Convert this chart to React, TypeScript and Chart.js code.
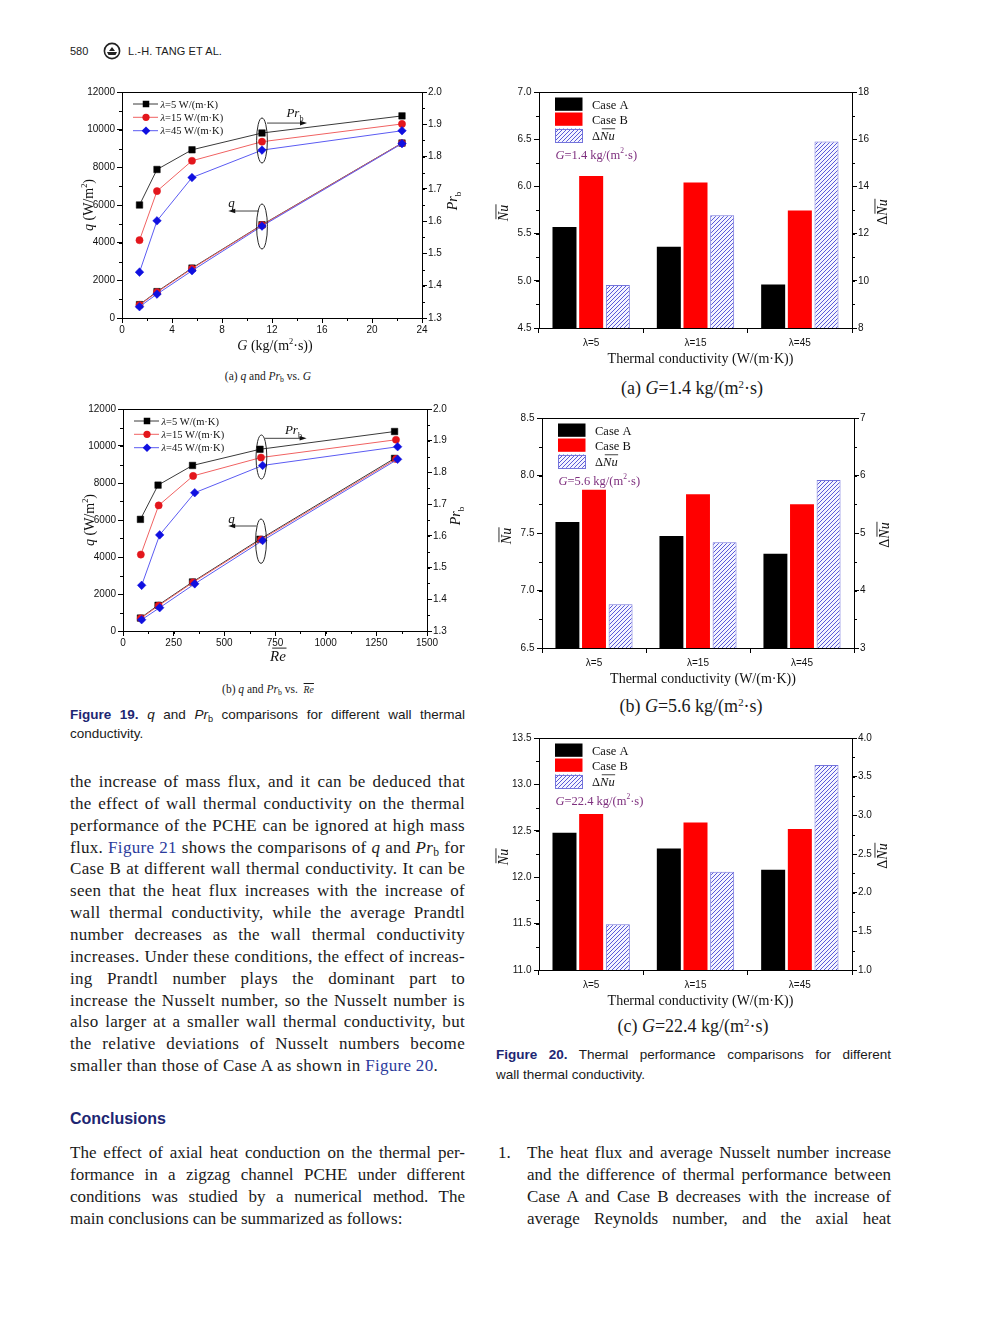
import React, { useEffect, useRef } from 'react';
import { Chart, registerables } from 'chart.js';

Chart.register(...registerables);

const SANS = '"Liberation Sans", Arial, sans-serif';
const SERIF = '"Liberation Serif", "Times New Roman", serif';

// ================= DATA =================
const LAMBDA_LABELS = ['λ=5 W/(m·K)', 'λ=15 W/(m·K)', 'λ=45 W/(m·K)'];

// Figure 19(a): q and Pr_b versus mass flux G
const G_VALUES = [1.4, 2.8, 5.6, 11.2, 22.4];
const PRB_G_L5 = [1.650, 1.760, 1.821, 1.873, 1.926];
const PRB_G_L15 = [1.541, 1.693, 1.787, 1.846, 1.901];
const PRB_G_L45 = [1.442, 1.601, 1.735, 1.820, 1.880];
const Q_G_L5 = [710, 1400, 2650, 4950, 9290];
const Q_G_L15 = [690, 1370, 2620, 4930, 9280];
const Q_G_L45 = [600, 1270, 2510, 4880, 9260];

// Figure 19(b): q and Pr_b versus mean Reynolds number
const RE_L5 = [86, 173, 343, 676, 1340];
const RE_L15 = [88, 176, 346, 681, 1347];
const RE_L45 = [92, 181, 354, 689, 1355];
const PRB_RE_L5 = [1.652, 1.760, 1.822, 1.873, 1.929];
const PRB_RE_L15 = [1.541, 1.696, 1.789, 1.847, 1.903];
const PRB_RE_L45 = [1.444, 1.603, 1.736, 1.822, 1.881];
const Q_RE_L5 = [700, 1390, 2650, 4960, 9330];
const Q_RE_L15 = [690, 1370, 2630, 4940, 9300];
const Q_RE_L45 = [610, 1260, 2550, 4890, 9280];

// axis ranges [min, max, major step, minor step]
const Q_AXIS = [0, 12000, 2000, 1000];
const PR_AXIS = [1.3, 2.0, 0.1, 0.05];
const G_AXIS = [0, 24, 4, 2];
const RE_AXIS = [0, 1500, 250, 125];

// annotation anchors (data units): ellipse [x, yTop, yBottom], arrow [x1, x2, y], label [x, y]
const ANN_G = {
  prEll: [11.2, 10620, 8230], qEll: [11.2, 6053, 3664],
  prArrow: [11.6, 14.8, 10350], qArrow: [10.95, 8.5, 5680],
  prLabel: [13.15, 10660], qLabel: [8.5, 5900],
};
const ANN_RE = {
  prEll: [683, 10594, 8216], qEll: [681, 6054, 3657],
  prArrow: [700, 906, 10415], qArrow: [659, 519, 5675],
  prLabel: [799, 10630], qLabel: [519, 5840],
};

// Figure 20: Nusselt numbers
const CONDUCTIVITY_CATS = ['λ=5', 'λ=15', 'λ=45'];
const BAR_SERIES = ['Case A', 'Case B', 'ΔNu'];
const BAR_G = [1.4, 5.6, 22.4];
const NU_A_G1 = [5.57, 5.36, 4.96];
const NU_B_G1 = [6.11, 6.04, 5.745];
const DNU_G1 = [9.82, 12.78, 15.9];
const NU_A_G2 = [7.596, 7.474, 7.32];
const NU_B_G2 = [7.877, 7.836, 7.75];
const DNU_G2 = [3.76, 4.84, 5.92];
const NU_A_G3 = [12.48, 12.31, 12.08];
const NU_B_G3 = [12.68, 12.59, 12.52];
const DNU_G3 = [1.59, 2.27, 3.65];
const NU_AXIS_G1 = [4.5, 7.0, 0.5, 0.25];
const DNU_AXIS_G1 = [8, 18, 2, 1];
const NU_AXIS_G2 = [6.5, 8.5, 0.5, 0.25];
const DNU_AXIS_G2 = [3, 7, 1, 0.5];
const NU_AXIS_G3 = [11.0, 13.5, 0.5, 0.25];
const DNU_AXIS_G3 = [1.0, 4.0, 0.5, 0.25];

// ================= DRAW HELPERS =================
type Run = { t: string; i?: boolean; s?: number; dy?: number; o?: boolean };
type Pos = { left: number; top: number; w: number; h: number; padTop: number; leftW: number; rightW: number; bottomH: number };

function fontOf(r: Run, size: number, fam: string) {
  return `${r.i ? 'italic ' : ''}${(size * (r.s ?? 1)).toFixed(2)}px ${fam}`;
}

function drawRich(ctx: CanvasRenderingContext2D, runs: Run[], x: number, y: number, size: number,
  opt: { align?: 'left' | 'center'; rot?: number; color?: string; family?: string } = {}) {
  const fam = opt.family ?? SERIF;
  const col = opt.color ?? '#111';
  ctx.save();
  ctx.translate(x, y);
  if (opt.rot) ctx.rotate(opt.rot);
  ctx.textAlign = 'left';
  ctx.textBaseline = 'alphabetic';
  ctx.fillStyle = col;
  ctx.strokeStyle = col;
  const ws = runs.map((r) => { ctx.font = fontOf(r, size, fam); return ctx.measureText(r.t).width; });
  const total = ws.reduce((p, c) => p + c, 0);
  let cx = opt.align === 'center' ? -total / 2 : 0;
  runs.forEach((r, k) => {
    ctx.font = fontOf(r, size, fam);
    ctx.fillText(r.t, cx, r.dy ?? 0);
    if (r.o) {
      ctx.lineWidth = Math.max(0.8, size / 16);
      ctx.beginPath();
      const oy = -size * 0.86;
      ctx.moveTo(cx + size * 0.14, oy);
      ctx.lineTo(cx + ws[k] + size * 0.04, oy);
      ctx.stroke();
    }
    cx += ws[k];
  });
  ctx.restore();
}

function minorTicks(ctx: CanvasRenderingContext2D, scale: any, side: 'left' | 'right' | 'bottom', a: any, rng: number[], len = 3) {
  const [min, max, , step] = rng;
  const n = Math.round((max - min) / step);
  ctx.beginPath();
  for (let i = 0; i <= n; i++) {
    const p = Math.round(scale.getPixelForValue(min + i * step)) + 0.5;
    if (side === 'bottom') { ctx.moveTo(p, a.bottom); ctx.lineTo(p, a.bottom + len); }
    else if (side === 'left') { ctx.moveTo(a.left, p); ctx.lineTo(a.left - len, p); }
    else { ctx.moveTo(a.right, p); ctx.lineTo(a.right + len, p); }
  }
  ctx.stroke();
}

function topFrame(ctx: CanvasRenderingContext2D, a: any) {
  const y = Math.round(a.top) + 0.5;
  ctx.beginPath();
  ctx.moveTo(a.left, y);
  ctx.lineTo(a.right, y);
  ctx.stroke();
}

function marker(ctx: CanvasRenderingContext2D, style: string, x: number, y: number, r: number, fill: string) {
  ctx.fillStyle = fill;
  ctx.beginPath();
  if (style === 'rect') { const s = r * Math.SQRT1_2; ctx.rect(x - s, y - s, 2 * s, 2 * s); }
  else if (style === 'circle') ctx.arc(x, y, r, 0, Math.PI * 2);
  else { ctx.moveTo(x - r, y); ctx.lineTo(x, y - r); ctx.lineTo(x + r, y); ctx.lineTo(x, y + r); ctx.closePath(); }
  ctx.fill();
}

function arrow(ctx: CanvasRenderingContext2D, x1: number, y: number, x2: number) {
  const dir = Math.sign(x2 - x1);
  ctx.beginPath();
  ctx.moveTo(x1, y);
  ctx.lineTo(x2 - dir * 5, y);
  ctx.stroke();
  ctx.fillStyle = '#111';
  ctx.beginPath();
  ctx.moveTo(x2, y);
  ctx.lineTo(x2 - dir * 7, y - 2.3);
  ctx.lineTo(x2 - dir * 7, y + 2.3);
  ctx.closePath();
  ctx.fill();
}

const tickGrid = (offset = false) => ({
  display: true, drawOnChartArea: false, drawTicks: true, tickLength: 5,
  color: '#000', lineWidth: 1, offset,
});
const border = { display: true, color: '#000', width: 1 };
const tickFont = { family: SANS, size: 10 };

// ================= LINE CHART =================
const SERIES_STYLE = [
  { line: '#3a3a3a', fill: '#000000', point: 'rect', radius: 4.6 },
  { line: '#f06262', fill: '#e3161c', point: 'circle', radius: 3.6 },
  { line: '#5b5bf2', fill: '#1010e0', point: 'rectRot', radius: 4.3 },
];

const Q_TITLE: Run[] = [{ t: 'q', i: true }, { t: ' (W/m' }, { t: '2', s: 0.6, dy: -6 }, { t: ')' }];
const PR_TITLE: Run[] = [{ t: 'Pr', i: true }, { t: 'b', s: 0.65, dy: 3.5 }];

interface LineSpec {
  pos: Pos; xAxis: number[]; xs: number[][]; pr: number[][]; q: number[][];
  xTitle: Run[]; xTitleSize: number; xTitleDy: number; rightDx: number; ann: any;
}

function makeLine(canvas: HTMLCanvasElement, spec: LineSpec) {
  const datasets: any[] = [];
  [0, 1, 2].forEach((k) => {
    const st = SERIES_STYLE[k];
    const common = {
      borderColor: st.line, borderWidth: 1, pointStyle: st.point, pointRadius: st.radius,
      pointBackgroundColor: st.fill, pointBorderColor: st.fill, pointBorderWidth: 0.5,
      fill: false, tension: 0, order: 2 - k,
    };
    datasets.push({ ...common, label: LAMBDA_LABELS[k] + ' Pr', yAxisID: 'y1', data: spec.xs[k].map((x, i) => ({ x, y: spec.pr[k][i] })) });
    datasets.push({ ...common, label: LAMBDA_LABELS[k] + ' q', yAxisID: 'y', data: spec.xs[k].map((x, i) => ({ x, y: spec.q[k][i] })) });
  });
  const decor = {
    id: 'decor',
    afterDraw(chart: any) {
      const ctx: CanvasRenderingContext2D = chart.ctx;
      const a = chart.chartArea;
      const sx = chart.scales.x, sy = chart.scales.y;
      ctx.save();
      ctx.strokeStyle = '#000';
      ctx.lineWidth = 1;
      topFrame(ctx, a);
      minorTicks(ctx, sx, 'bottom', a, spec.xAxis);
      minorTicks(ctx, sy, 'left', a, Q_AXIS);
      minorTicks(ctx, chart.scales.y1, 'right', a, PR_AXIS);
      // legend
      const rows = [12, 25.3, 38.7];
      rows.forEach((dy, k) => {
        const st = SERIES_STYLE[k];
        const y = a.top + dy;
        ctx.strokeStyle = st.line;
        ctx.lineWidth = 1;
        ctx.beginPath();
        ctx.moveTo(a.left + 11, y);
        ctx.lineTo(a.left + 36, y);
        ctx.stroke();
        marker(ctx, st.point, a.left + 24, y, st.radius, st.fill);
        const lab = LAMBDA_LABELS[k];
        drawRich(ctx, [{ t: lab.slice(0, 1), i: true }, { t: lab.slice(1) }], a.left + 38.5, y + 3.6, 10.5);
      });
      // annotations
      const ann = spec.ann;
      ctx.strokeStyle = '#111';
      ctx.lineWidth = 0.9;
      [ann.prEll, ann.qEll].forEach((e: number[]) => {
        const cx = sx.getPixelForValue(e[0]);
        const y1 = sy.getPixelForValue(e[1]);
        const y2 = sy.getPixelForValue(e[2]);
        ctx.beginPath();
        ctx.ellipse(cx, (y1 + y2) / 2, 5.4, (y2 - y1) / 2, 0, 0, Math.PI * 2);
        ctx.stroke();
      });
      ctx.lineWidth = 0.8;
      [ann.prArrow, ann.qArrow].forEach((r: number[]) => {
        arrow(ctx, sx.getPixelForValue(r[0]), sy.getPixelForValue(r[2]), sx.getPixelForValue(r[1]));
      });
      drawRich(ctx, [{ t: 'Pr', i: true }, { t: 'b', s: 0.62, dy: 3.5 }], sx.getPixelForValue(ann.prLabel[0]), sy.getPixelForValue(ann.prLabel[1]), 13);
      drawRich(ctx, [{ t: 'q', i: true }], sx.getPixelForValue(ann.qLabel[0]), sy.getPixelForValue(ann.qLabel[1]), 13);
      // axis titles
      const midY = (a.top + a.bottom) / 2;
      drawRich(ctx, Q_TITLE, a.left - 29, midY, 14, { align: 'center', rot: -Math.PI / 2 });
      drawRich(ctx, PR_TITLE, a.right + spec.rightDx, midY - 4, 14, { align: 'center', rot: -Math.PI / 2 });
      drawRich(ctx, spec.xTitle, (a.left + a.right) / 2 + 3, a.bottom + spec.xTitleDy, spec.xTitleSize, { align: 'center' });
      ctx.restore();
    },
  };
  const p = spec.pos;
  return new Chart(canvas, {
    type: 'line',
    data: { datasets },
    options: {
      animation: false, responsive: false,
      layout: { padding: { top: p.padTop, left: 0, right: 0, bottom: 0 } },
      plugins: { legend: { display: false }, tooltip: { enabled: false } },
      scales: {
        x: {
          type: 'linear', min: spec.xAxis[0], max: spec.xAxis[1],
          ticks: { stepSize: spec.xAxis[2], font: tickFont, color: '#111', padding: 1, callback: (v: any) => String(v) },
          grid: tickGrid(), border,
          afterFit: (s: any) => { s.height = p.bottomH; },
        },
        y: {
          type: 'linear', position: 'left', min: Q_AXIS[0], max: Q_AXIS[1],
          ticks: { stepSize: Q_AXIS[2], font: tickFont, color: '#111', padding: 2, callback: (v: any) => String(v) },
          grid: tickGrid(), border,
          afterFit: (s: any) => { s.width = p.leftW; },
        },
        y1: {
          type: 'linear', position: 'right', min: PR_AXIS[0], max: PR_AXIS[1],
          ticks: { stepSize: PR_AXIS[2], font: tickFont, color: '#111', padding: 1, callback: (v: any) => Number(v).toFixed(1) },
          grid: tickGrid(), border,
          afterFit: (s: any) => { s.width = p.rightW; },
        },
      },
    } as any,
    plugins: [decor as any],
  });
}

// ================= BAR CHART =================
function makeHatch(): CanvasPattern {
  const c = document.createElement('canvas');
  c.width = 4; c.height = 4;
  const g = c.getContext('2d')!;
  g.fillStyle = '#f4f4ff';
  g.fillRect(0, 0, 4, 4);
  g.strokeStyle = '#4848d4';
  g.lineWidth = 0.9;
  g.beginPath();
  g.moveTo(-1, 5); g.lineTo(5, -1);
  g.moveTo(-1, 1); g.lineTo(1, -1);
  g.moveTo(3, 5); g.lineTo(5, 3);
  g.stroke();
  return g.createPattern(c, 'repeat')!;
}

interface BarSpec {
  pos: Pos; a: number[]; b: number[]; d: number[];
  left: number[]; right: number[]; rightDec: number; g: number;
}

const HATCH_BORDER = '#7474dc';

function makeBar(canvas: HTMLCanvasElement, spec: BarSpec) {
  const hatch = makeHatch();
  const p = spec.pos;
  const barOpts = { categoryPercentage: 0.767, barPercentage: 0.9 };
  const decor = {
    id: 'decor',
    afterDraw(chart: any) {
      const ctx: CanvasRenderingContext2D = chart.ctx;
      const a = chart.chartArea;
      ctx.save();
      ctx.strokeStyle = '#000';
      ctx.lineWidth = 1;
      topFrame(ctx, a);
      minorTicks(ctx, chart.scales.y, 'left', a, spec.left);
      minorTicks(ctx, chart.scales.y1, 'right', a, spec.right);
      // legend
      const fills: any[] = ['#000000', '#ff0000', hatch];
      const rows = [5.5, 20.5, 36.5];
      rows.forEach((dy, k) => {
        const y = a.top + dy;
        ctx.fillStyle = fills[k];
        ctx.fillRect(a.left + 16, y, 27.5, 13.3);
        if (k === 2) {
          ctx.strokeStyle = HATCH_BORDER;
          ctx.lineWidth = 1;
          ctx.strokeRect(Math.round(a.left + 16) + 0.5, Math.round(y) + 0.5, 27, 13);
        }
        const name = BAR_SERIES[k];
        const runs: Run[] = name.startsWith('Δ') ? [{ t: 'Δ' }, { t: name.slice(1), i: true, o: true }] : [{ t: name }];
        drawRich(ctx, runs, a.left + 53, y + 11, 12.5);
      });
      drawRich(ctx, [{ t: 'G', i: true }, { t: `=${spec.g} kg/(m` }, { t: '2', s: 0.6, dy: -5.5 }, { t: '·s)' }],
        a.left + 16.5, a.top + 66.5, 12.5, { color: '#7e2f7e' });
      // titles
      const midY = (a.top + a.bottom) / 2;
      drawRich(ctx, [{ t: 'Nu', i: true, o: true }], a.left - 31, midY + 3, 14, { align: 'center', rot: -Math.PI / 2 });
      drawRich(ctx, [{ t: 'Δ' }, { t: 'Nu', i: true, o: true }], a.right + 35, midY + 2, 14, { align: 'center', rot: -Math.PI / 2 });
      drawRich(ctx, [{ t: 'Thermal conductivity (W/(m·K))' }], (a.left + a.right) / 2 + 5, a.bottom + 34.5, 14, { align: 'center' });
      ctx.restore();
    },
  };
  return new Chart(canvas, {
    type: 'bar',
    data: {
      labels: CONDUCTIVITY_CATS,
      datasets: [
        { label: BAR_SERIES[0], data: spec.a, backgroundColor: '#000000', yAxisID: 'y', ...barOpts },
        { label: BAR_SERIES[1], data: spec.b, backgroundColor: '#ff0000', yAxisID: 'y', ...barOpts },
        { label: BAR_SERIES[2], data: spec.d, backgroundColor: hatch, borderColor: HATCH_BORDER, borderWidth: 1, yAxisID: 'y1', ...barOpts },
      ],
    },
    options: {
      animation: false, responsive: false,
      layout: { padding: { top: p.padTop, left: 0, right: 0, bottom: 0 } },
      plugins: { legend: { display: false }, tooltip: { enabled: false } },
      scales: {
        x: {
          type: 'category', offset: true,
          ticks: { font: tickFont, color: '#111', padding: 4 },
          grid: tickGrid(true), border,
          afterFit: (s: any) => { s.height = p.bottomH; },
        },
        y: {
          type: 'linear', position: 'left', min: spec.left[0], max: spec.left[1],
          ticks: { stepSize: spec.left[2], font: tickFont, color: '#111', padding: 2.5, callback: (v: any) => Number(v).toFixed(1) },
          grid: tickGrid(), border,
          afterFit: (s: any) => { s.width = p.leftW; },
        },
        y1: {
          type: 'linear', position: 'right', min: spec.right[0], max: spec.right[1],
          ticks: { stepSize: spec.right[2], font: tickFont, color: '#111', padding: 1, callback: (v: any) => Number(v).toFixed(spec.rightDec) },
          grid: tickGrid(), border,
          afterFit: (s: any) => { s.width = p.rightW; },
        },
      },
    } as any,
    plugins: [decor as any],
  });
}

// ================= REACT =================
function ChartCanvas({ pos, make }: { pos: Pos; make: (c: HTMLCanvasElement) => Chart }) {
  const ref = useRef<HTMLCanvasElement>(null);
  useEffect(() => {
    const ch = make(ref.current!);
    return () => ch.destroy();
  }, []);
  return (
    <canvas ref={ref} width={pos.w} height={pos.h}
      style={{ position: 'absolute', left: pos.left, top: pos.top, width: pos.w, height: pos.h }} />
  );
}

const POS_LINE_A: Pos = { left: 60, top: 82, w: 410, h: 280, padTop: 10, leftW: 62, rightW: 48, bottomH: 44 };
const POS_LINE_B: Pos = { left: 60, top: 398, w: 410, h: 280, padTop: 11, leftW: 63, rightW: 43, bottomH: 47 };
const POS_BAR_A: Pos = { left: 490, top: 82, w: 410, h: 290, padTop: 10, leftW: 49, rightW: 48, bottomH: 44 };
const POS_BAR_B: Pos = { left: 490, top: 408, w: 410, h: 284, padTop: 10, leftW: 52, rightW: 46, bottomH: 44 };
const POS_BAR_C: Pos = { left: 490, top: 728, w: 410, h: 286, padTop: 10, leftW: 49, rightW: 48, bottomH: 44 };

const NAVY = '#1d2672';
const LINK = '#2b3a9c';
const TXT = '#1a1a1a';

const Sub = ({ c }: { c: string }) => (
  <span style={{ fontSize: '0.68em', position: 'relative', top: '0.28em' }}>{c}</span>
);
const Sup = ({ c }: { c: string }) => (
  <span style={{ fontSize: '0.6em', position: 'relative', top: '-0.55em' }}>{c}</span>
);
const Prb = () => (<><i>Pr</i><Sub c="b" /></>);
const A = ({ children }: { children: React.ReactNode }) => <span style={{ color: LINK }}>{children}</span>;

function TextLine({ y, x, w, justify = true, size = 17, ls = 0.3, lh = 22, family = SERIF, children }:
  { y: number; x: number; w: number; justify?: boolean; size?: number; ls?: number; lh?: number; family?: string; children: React.ReactNode }) {
  const off = family === SANS ? 9 : 10;
  return (
    <div style={{
      position: 'absolute', left: x, top: y - off, width: w, height: lh, lineHeight: `${lh}px`,
      fontSize: size, fontFamily: family, letterSpacing: ls, color: TXT,
      textAlign: justify ? 'justify' : 'left', textAlignLast: justify ? 'justify' : 'left',
    } as any}>{children}</div>
  );
}

const BODY_LINES: React.ReactNode[] = [
  'the increase of mass flux, and it can be deduced that',
  'the effect of wall thermal conductivity on the thermal',
  'performance of the PCHE can be ignored at high mass',
  <>flux. <A>Figure 21</A> shows the comparisons of <i>q</i> and <Prb /> for</>,
  'Case B at different wall thermal conductivity. It can be',
  'seen that the heat flux increases with the increase of',
  'wall thermal conductivity, while the average Prandtl',
  'number decreases as the wall thermal conductivity',
  'increases. Under these conditions, the effect of increas-',
  'ing Prandtl number plays the dominant part to',
  'increase the Nusselt number, so the Nusselt number is',
  'also larger at a smaller wall thermal conductivity, but',
  'the relative deviations of Nusselt numbers become',
  <>smaller than those of Case A as shown in <A>Figure 20</A>.</>,
];

const CONCL_LEFT = [
  'The effect of axial heat conduction on the thermal per-',
  'formance in a zigzag channel PCHE under different',
  'conditions was studied by a numerical method. The',
  'main conclusions can be summarized as follows:',
];
const CONCL_RIGHT = [
  'The heat flux and average Nusselt number increase',
  'and the difference of thermal performance between',
  'Case A and Case B decreases with the increase of',
  'average Reynolds number, and the axial heat',
];

function Caption({ cx, y, size, w = 320, children }: { cx: number; y: number; size: number; w?: number; children: React.ReactNode }) {
  const lh = Math.round(size * 1.25);
  return (
    <div style={{
      position: 'absolute', left: cx - w / 2, width: w, top: y - lh * 0.55, height: lh, lineHeight: `${lh}px`,
      textAlign: 'center', fontFamily: SERIF, fontSize: size, color: TXT, whiteSpace: 'nowrap',
    }}>{children}</div>
  );
}

export default function App() {
  return (
    <div style={{ position: 'absolute', left: 0, top: 0, width: 990, height: 1320, background: '#fff', overflow: 'hidden' }}>
      {/* running header */}
      <div style={{ position: 'absolute', left: 70, top: 44, fontFamily: SANS, fontSize: 11, color: TXT, lineHeight: '14px' }}>580</div>
      <svg style={{ position: 'absolute', left: 103, top: 42 }} width="18" height="18" viewBox="0 0 18 18">
        <circle cx="9" cy="9" r="7.6" fill="none" stroke="#222" strokeWidth="1.6" />
        <path d="M4 10 L14 10 L12.5 13 L5.5 13 Z M6 9 L9 5 L12 9 Z" fill="#222" />
      </svg>
      <div style={{ position: 'absolute', left: 128, top: 44, fontFamily: SANS, fontSize: 11, color: TXT, lineHeight: '14px', letterSpacing: 0.1 }}>L.-H. TANG ET AL.</div>

      {/* Figure 19 */}
      <ChartCanvas pos={POS_LINE_A} make={(c) => makeLine(c, {
        pos: POS_LINE_A, xAxis: G_AXIS, xs: [G_VALUES, G_VALUES, G_VALUES],
        pr: [PRB_G_L5, PRB_G_L15, PRB_G_L45], q: [Q_G_L5, Q_G_L15, Q_G_L45],
        xTitle: [{ t: 'G', i: true }, { t: ' (kg/(m' }, { t: '2', s: 0.6, dy: -6 }, { t: '·s))' }],
        xTitleSize: 14, xTitleDy: 32, rightDx: 35, ann: ANN_G,
      })} />
      <Caption cx={268} y={377} size={11.5}>(a) <i>q</i> and <Prb /> vs. <i>G</i></Caption>

      <ChartCanvas pos={POS_LINE_B} make={(c) => makeLine(c, {
        pos: POS_LINE_B, xAxis: RE_AXIS, xs: [RE_L5, RE_L15, RE_L45],
        pr: [PRB_RE_L5, PRB_RE_L15, PRB_RE_L45], q: [Q_RE_L5, Q_RE_L15, Q_RE_L45],
        xTitle: [{ t: 'Re', i: true, o: true }],
        xTitleSize: 15, xTitleDy: 30, rightDx: 33, ann: ANN_RE,
      })} />
      <Caption cx={268} y={690} size={11.5}>(b) <i>q</i> and <Prb /> vs.&nbsp;&nbsp;<i style={{ textDecoration: 'overline', fontSize: '0.85em' }}>Re</i></Caption>

      <TextLine x={70} w={395} y={714} size={13.5} ls={0} lh={19} family={SANS}>
        <b style={{ color: NAVY }}>Figure 19.</b> <i>q</i> and <Prb /> comparisons for different wall thermal
      </TextLine>
      <TextLine x={70} w={395} y={733} size={13.5} ls={0} lh={19} family={SANS} justify={false}>conductivity.</TextLine>

      {/* Figure 20 */}
      <ChartCanvas pos={POS_BAR_A} make={(c) => makeBar(c, {
        pos: POS_BAR_A, a: NU_A_G1, b: NU_B_G1, d: DNU_G1, left: NU_AXIS_G1, right: DNU_AXIS_G1, rightDec: 0, g: BAR_G[0],
      })} />
      <Caption cx={692} y={390} size={18}>(a) <i>G</i>=1.4 kg/(m<Sup c="2" />·s)</Caption>

      <ChartCanvas pos={POS_BAR_B} make={(c) => makeBar(c, {
        pos: POS_BAR_B, a: NU_A_G2, b: NU_B_G2, d: DNU_G2, left: NU_AXIS_G2, right: DNU_AXIS_G2, rightDec: 0, g: BAR_G[1],
      })} />
      <Caption cx={691} y={708} size={18}>(b) <i>G</i>=5.6 kg/(m<Sup c="2" />·s)</Caption>

      <ChartCanvas pos={POS_BAR_C} make={(c) => makeBar(c, {
        pos: POS_BAR_C, a: NU_A_G3, b: NU_B_G3, d: DNU_G3, left: NU_AXIS_G3, right: DNU_AXIS_G3, rightDec: 1, g: BAR_G[2],
      })} />
      <Caption cx={693} y={1028} size={18}>(c) <i>G</i>=22.4 kg/(m<Sup c="2" />·s)</Caption>

      <TextLine x={496} w={395} y={1054} size={13.5} ls={0} lh={19} family={SANS}>
        <b style={{ color: NAVY }}>Figure 20.</b> Thermal performance comparisons for different
      </TextLine>
      <TextLine x={496} w={395} y={1074} size={13.5} ls={0} lh={19} family={SANS} justify={false}>wall thermal conductivity.</TextLine>

      {/* body text */}
      {BODY_LINES.map((l, i) => (
        <TextLine key={i} x={70} w={395} y={781 + i * 21.85} justify={i < BODY_LINES.length - 1}>{l}</TextLine>
      ))}

      <div style={{ position: 'absolute', left: 70, top: 1108, fontFamily: SANS, fontWeight: 'bold', fontSize: 16, color: NAVY, lineHeight: '22px' }}>Conclusions</div>

      {CONCL_LEFT.map((l, i) => (
        <TextLine key={'cl' + i} x={70} w={395} y={1152 + i * 22} ls={0} justify={i < CONCL_LEFT.length - 1}>{l}</TextLine>
      ))}
      <TextLine x={498} w={30} y={1152} ls={0} justify={false}>1.</TextLine>
      {CONCL_RIGHT.map((l, i) => (
        <TextLine key={'cr' + i} x={527} w={364} y={1152 + i * 22} ls={0}>{l}</TextLine>
      ))}
    </div>
  );
}
